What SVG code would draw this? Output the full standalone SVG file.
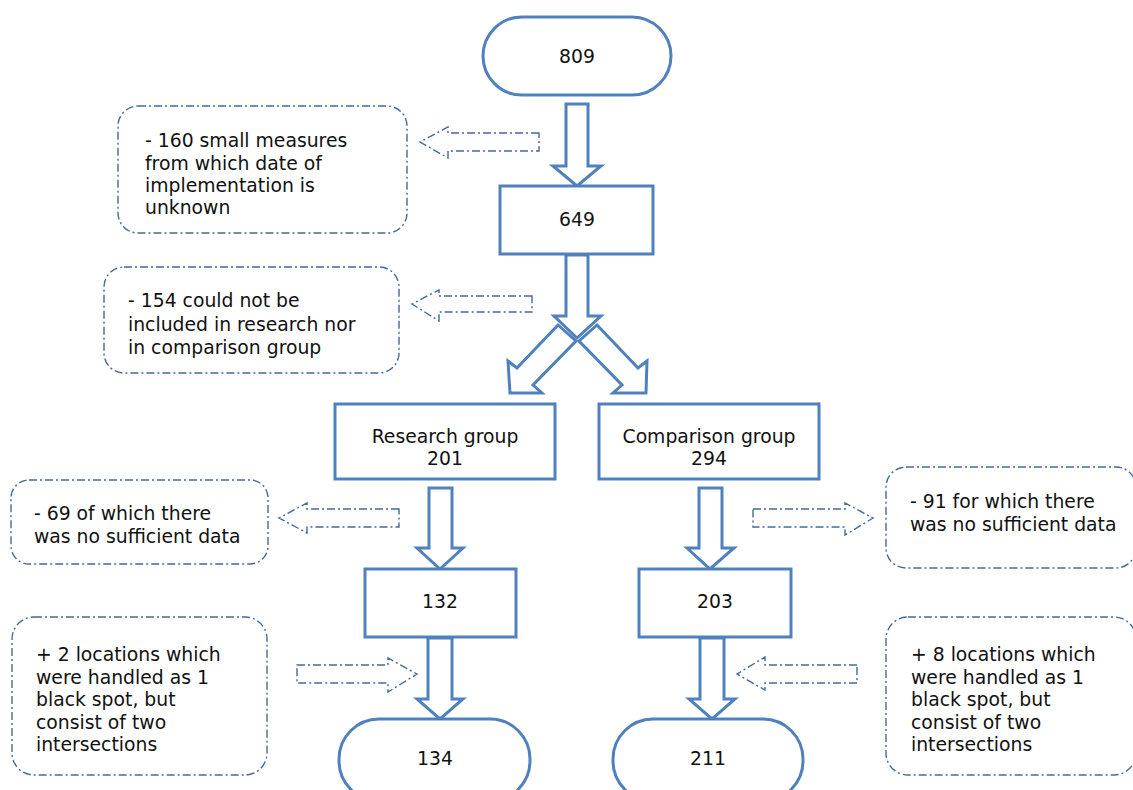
<svg xmlns="http://www.w3.org/2000/svg" width="1133" height="790" viewBox="0 0 1133 790">
<style>
.node{fill:#fff;stroke:#4f81bd;stroke-width:3}
.barrow{fill:#fff;stroke:#4f81bd;stroke-width:3;stroke-linejoin:miter}
.note{fill:#fff;stroke:#44699c;stroke-width:1.4;stroke-dasharray:8 3 2 3}
.darrow{fill:none;stroke:#44699c;stroke-width:1.4;stroke-dasharray:8 3 2 3}
text{font-family:"DejaVu Sans",Verdana,sans-serif;font-size:18.8px;fill:#111}
.c{text-anchor:middle}
</style>
<rect width="1133" height="790" fill="#fff"/>
<g id="connectors">
<polygon class="barrow" points="566,104 588,104 588,166 601,166 577,186 553,166 566,166"/>
<polygon class="barrow" points="566,255 588,255 588,316 601,316 577,338 554,316 566,316"/>
<polygon class="barrow" points="558,325 517,368 508,361 510,393 542,393 533,385 576,341"/>
<polygon class="barrow" points="597,325 638,368 647,361 646,393 613,393 622,385 579,341"/>
<polygon class="barrow" points="429,488 452,488 452,548 463,548 440,569 417,548 429,548"/>
<polygon class="barrow" points="699,488 722,488 722,548 734,548 710,569 687,548 699,548"/>
<polygon class="barrow" points="428,638 452,638 452,699 463,699 440,719 417,699 428,699"/>
<polygon class="barrow" points="700,638 724,638 724,699 735,699 712,719 689,699 700,699"/>
<polygon class="darrow" points="539,133 448,133 448,127 420,142 448,158 448,151 539,151"/>
<polygon class="darrow" points="532,296 439,296 439,290 412,304 439,321 439,312 532,312"/>
<polygon class="darrow" points="399,509 307,509 307,503 279,518 307,533 307,527 399,527"/>
<polygon class="darrow" points="753,509 845,509 845,503 873,518 845,535 845,527 753,527"/>
<polygon class="darrow" points="297,665 388,665 388,658 417,674 388,692 388,683 297,683"/>
<polygon class="darrow" points="857,665 765,665 765,657 737,674 765,690 765,683 857,683"/>
</g>
<g id="n809"><rect class="node" x="483" y="17" width="188" height="78" rx="39"/><text class="c" x="577" y="63">809</text></g>
<g id="n649"><rect class="node" x="500" y="186" width="153" height="68"/><text class="c" x="577" y="226">649</text></g>
<g id="research"><rect class="node" x="335" y="404" width="220" height="75"/><text class="c" x="445" y="443">Research group</text><text class="c" x="445" y="465">201</text></g>
<g id="comparison"><rect class="node" x="599" y="404" width="220" height="75"/><text class="c" x="709" y="443">Comparison group</text><text class="c" x="709" y="465">294</text></g>
<g id="n132"><rect class="node" x="365" y="569" width="151" height="68"/><text class="c" x="440" y="608">132</text></g>
<g id="n203"><rect class="node" x="639" y="569" width="152" height="68"/><text class="c" x="715" y="608">203</text></g>
<g id="n134"><rect class="node" x="339" y="719" width="191" height="82" rx="40"/><text class="c" x="435" y="765">134</text></g>
<g id="n211"><rect class="node" x="613" y="719" width="190" height="82" rx="40"/><text class="c" x="708" y="765">211</text></g>
<g id="note1"><rect class="note" x="118" y="106" width="289" height="127" rx="20"/>
<text x="145" y="147">- 160 small measures</text><text x="145" y="170">from which date of</text><text x="145" y="192">implementation is</text><text x="145" y="214">unknown</text></g>
<g id="note2"><rect class="note" x="104" y="267" width="295" height="106" rx="20"/>
<text x="128" y="307">- 154 could not be</text><text x="128" y="331">included in research nor</text><text x="128" y="354">in comparison group</text></g>
<g id="note3"><rect class="note" x="11" y="480" width="257" height="84" rx="18"/>
<text x="34" y="520">- 69 of which there</text><text x="34" y="543">was no sufficient data</text></g>
<g id="note4"><rect class="note" x="886" y="467" width="250" height="101" rx="20"/>
<text x="910" y="508">- 91 for which there</text><text x="910" y="531">was no sufficient data</text></g>
<g id="note5"><rect class="note" x="12" y="617" width="255" height="158" rx="22"/>
<text x="36" y="661">+ 2 locations which</text><text x="36" y="683.5">were handled as 1</text><text x="36" y="706">black spot, but</text><text x="36" y="728.5">consist of two</text><text x="36" y="751">intersections</text></g>
<g id="note6"><rect class="note" x="886" y="617" width="250" height="158" rx="22"/>
<text x="911" y="661">+ 8 locations which</text><text x="911" y="683.5">were handled as 1</text><text x="911" y="706">black spot, but</text><text x="911" y="728.5">consist of two</text><text x="911" y="751">intersections</text></g>
</svg>
